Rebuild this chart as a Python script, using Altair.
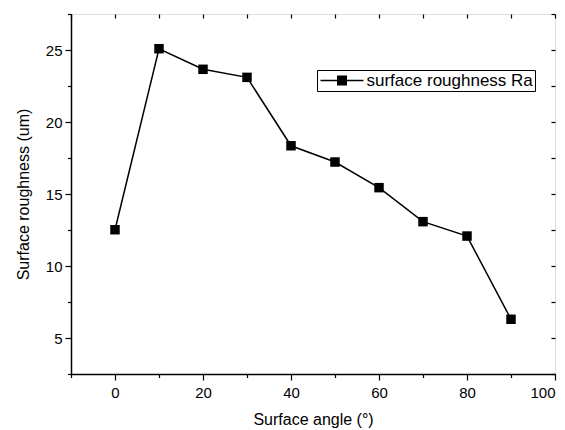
import altair as alt
import pandas as pd

# data
angle = [0, 10, 20, 30, 40, 50, 60, 70, 80, 90]
roughness = [12.52, 25.09, 23.66, 23.10, 18.35, 17.22, 15.44, 13.08, 12.08, 6.30]
series_name = "surface roughness Ra"
x_ticks = [-10, 0, 10, 20, 30, 40, 50, 60, 70, 80, 90, 100]
y_ticks = [2.5, 5, 7.5, 10, 12.5, 15, 17.5, 20, 22.5, 25, 27.5]

df = pd.DataFrame({"angle": angle, "roughness": roughness,
                   "series": [series_name] * len(angle)})

FONT = "Liberation Sans"
xs = alt.Scale(domain=[-10, 100], nice=False, zero=False)
ys = alt.Scale(domain=[2.5, 27.5], nice=False, zero=False)

legend_symbol = ("M-4.3,-0.15H-1V0.15H-4.3Z"
                 "M1,-0.15H4.3V0.15H1Z"
                 "M-1,-1H1V1H-1Z")

common = dict(
    domainColor="black", domainWidth=1.5, tickColor="black", tickWidth=1.2,
    labelFont=FONT, labelFontSize=15, labelColor="black",
    titleFont=FONT, titleFontSize=16, titleColor="black", titleFontWeight="normal",
    grid=False,
)

x_axis = alt.Axis(
    orient="bottom",
    values=x_ticks,
    labelExpr="datum.value % 20 === 0 ? datum.label : ''",
    tickSize={"condition": {"test": "datum.value % 20 === 0", "value": 6}, "value": 3.5},
    title="Surface angle (°)",
    labelPadding=5, titlePadding=11, **common,
)
y_axis = alt.Axis(
    orient="left",
    values=y_ticks,
    labelExpr="datum.value % 5 === 0 ? datum.label : ''",
    tickSize={"condition": {"test": "datum.value % 5 === 0", "value": 6}, "value": 3.5},
    title="Surface roughness (um)",
    labelPadding=3, titlePadding=14, **common,
)

base = alt.Chart(df)

line = base.mark_line(color="black", strokeWidth=1.5).encode(
    x=alt.X("angle:Q", scale=xs, axis=x_axis),
    y=alt.Y("roughness:Q", scale=ys, axis=y_axis),
)

points = base.mark_point(shape="square", filled=True, size=90, opacity=1).encode(
    x=alt.X("angle:Q", scale=xs, axis=None),
    y=alt.Y("roughness:Q", scale=ys, axis=None),
    color=alt.Color("series:N", scale=alt.Scale(range=["black"]),
                    legend=alt.Legend(
                        title=None, orient="none", legendX=246, legendY=56,
                        symbolType=legend_symbol, symbolSize=100,
                        symbolOffset=14.5, labelOffset=16, labelLimit=400,
                        labelFont=FONT, labelFontSize=17, labelColor="black",
                        strokeColor="black", fillColor="white", padding=2,
                        symbolStrokeWidth=0,
                    )),
)

frame = base.mark_point(opacity=0).encode(
    x=alt.X("angle:Q", scale=xs,
            axis=alt.Axis(orient="top", values=x_ticks, labels=False, title=None,
                          tickSize=4, offset=-4, domain=False, grid=False,
                          tickColor="black", tickWidth=1.2)),
    y=alt.Y("roughness:Q", scale=ys,
            axis=alt.Axis(orient="right", values=y_ticks, labels=False, title=None,
                          tickSize=4, offset=-4, domain=False, grid=False,
                          tickColor="black", tickWidth=1.2)),
)

chart = alt.layer(line, points, frame).resolve_axis(
    x="independent", y="independent"
).properties(
    width=484, height=360,
    autosize=alt.AutoSizeParams(type="none"),
    padding={"left": 71, "top": 14, "right": 10, "bottom": 56},
).configure_view(
    stroke="black", strokeWidth=1.5
).configure(background="white")

chart.save("out.html", embed_options={"renderer": "svg", "actions": False})
